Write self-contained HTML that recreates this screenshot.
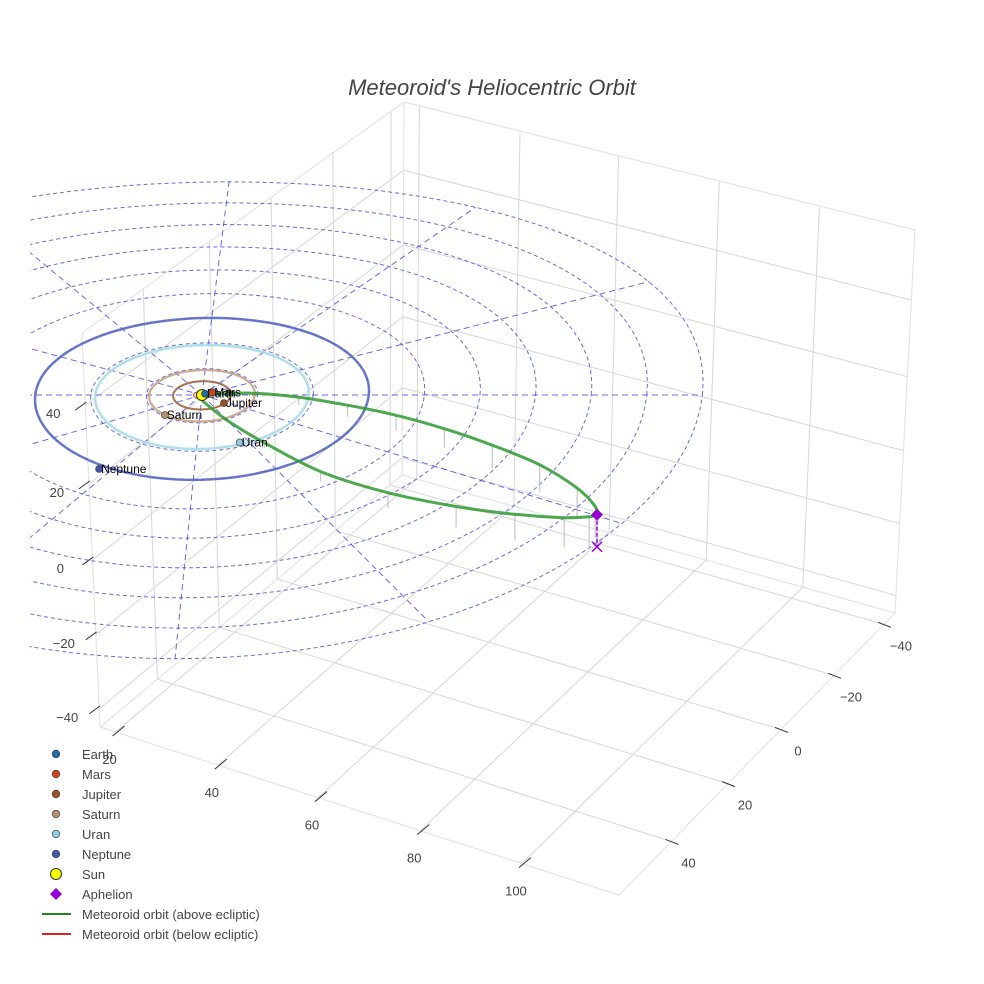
<!DOCTYPE html>
<html><head><meta charset="utf-8"><style>
html,body{margin:0;padding:0;background:#fff;}
svg{display:block;font-family:"Liberation Sans",sans-serif;}
</style></head><body>
<svg id="chart" width="984" height="984" viewBox="0 0 984 984">
<defs><clipPath id="sceneclip"><rect x="30" y="0" width="954" height="984"/></clipPath></defs>
<rect width="984" height="984" fill="#fff"/>
<text x="492" y="95" text-anchor="middle" font-size="22" font-style="italic" fill="#444">Meteoroid's Heliocentric Orbit</text>
<g id="box"></g>
<g id="ecl" clip-path="url(#sceneclip)"></g>
<g id="marks"></g>
<g id="legend"></g>
</svg>
<script>
// ---- data (AU) ----
const ringRadii = [10,20,30,40,50,60,70,80,90];
const radialAngles = [0,30,60,90,120,150,180,210,240,270,300,330];
const planetNames = ["Earth","Mars","Jupiter","Saturn","Uran","Neptune"];
const planetOrbitR = [1,1.5,5.2,9.5,19.2,30];
const planetX = [0.5,1.8,4.1,-6.3,7.7,-17.1];
const planetY = [-0.5,-1.0,2.9,7.2,16.9,26.2];
const planetColors = ["#1a6fa8","#d0441a","#9c4f2e","#b89070","#8ccbe0","#4456a8"];
const orbitColors = ["#4a90c0","#d0441a","#a0603a","#c9a27e","#a8dbe6","#5a6cc4"];
const orbitWidths = [1.2,1.2,2,2.2,2.5,2.5];
const upperX = [0,8.6,17.6,26.6,35.6,44.6,53.6,62.6,69.8,73.4,73.9];
const upperY = [0,0.6,3.5,7.8,12.8,18.8,26,34.2,43.3,49.9,52.9];
const upperZ = [0,0.9,1.9,2.9,3.9,4.8,5.8,6.8,7.6,7.9,8.0];
const lowerX = [0,5,12.2,23,35.6,48.2,59,68,72.5,73.9];
const lowerY = [1.8,9.7,18.8,30.6,39.8,46.3,50.6,53.1,53.3,52.9];
const lowerZ = [0,0.5,1.3,2.5,3.9,5.2,6.4,7.4,7.8,8.0];
const aphelion = [73.9,52.9,8.0];
const xTicks = ["20","40","60","80","100"];
const yTicks = ["40","20","0","−20","−40"];
const zTicks = ["40","20","0","−20","−40"];

const NS="http://www.w3.org/2000/svg";
function mk(tag,attrs,parent){const e=document.createElementNS(NS,tag);for(const k in attrs)e.setAttribute(k,attrs[k]);parent.appendChild(e);return e;}
function P(X,Y,Z){Z=Z||0;const k=Y<0?5.56*(0.48-0.0006*(-Y)):5.56*(0.5+0.0003*Y);return [202+5.56*X-0.3*Y,395+k*Y-4*Z];}
function lerp(a,b,t){return [a[0]+(b[0]-a[0])*t,a[1]+(b[1]-a[1])*t];}

// ---- box ----
const box=document.getElementById('box');
const FL=[100,727],FR=[619,895],RR=[895,613],B=[402,475],TB=[404,102],TL=[82,333],TR=[915,230];
function ln(a,b,col,w,name){const l=mk('line',{x1:a[0],y1:a[1],x2:b[0],y2:b[1],stroke:col,'stroke-width':w},box);return l;}
const xf=[0.03,0.227,0.42,0.617,0.813];
const yf=[0.19,0.395,0.587,0.779,0.96];
const zf=[0.183,0.383,0.576,0.766,0.954];
xf.forEach(f=>{ln(lerp(FL,FR,f),lerp(B,RR,f),"#d6d6d6",1,'floor-grid-x');ln(lerp(B,RR,f),lerp(TB,TR,f),"#d6d6d6",1,'wall-grid-x');});
yf.forEach(f=>{ln(lerp(FR,RR,f),lerp(FL,B,f),"#d6d6d6",1,'floor-grid-y');ln(lerp(FL,B,f),lerp(TL,TB,f),"#d6d6d6",1,'wall-grid-y');});
zf.forEach(f=>{ln(lerp(TL,FL,f),lerp(TB,B,f),"#d6d6d6",1,'wall-grid-z');ln(lerp(TB,B,f),lerp(TR,RR,f),"#d6d6d6",1,'wall-grid-z');});
[[FL,FR],[FR,RR],[RR,B],[B,FL],[TL,TB],[TB,TR],[TB,B],[TL,FL],[TR,RR]].forEach(e=>ln(e[0],e[1],"#e4e4e4",1.2,'box-edge'));
function tx(x,y,s,anchor,name){const t=mk('text',{x:x,y:y,'font-size':13,fill:'#444','text-anchor':anchor},box);t.textContent=s;}
xf.forEach((f,i)=>{const p=lerp(FL,FR,f);ln([p[0]-3,p[1]+4],[p[0]+9,p[1]-6],"#333",1,'x-tick');tx(p[0]-6,p[1]+32,xTicks[i],'middle','x-tick-label');});
yf.forEach((f,i)=>{const p=lerp(FR,RR,f);ln([p[0]-6,p[1]-2],[p[0]+7,p[1]+3],"#333",1,'y-tick');tx(p[0]+17,p[1]+26,yTicks[i],'middle','y-tick-label');});
zf.forEach((f,i)=>{const p=lerp(TL,FL,f);ln([p[0]-10,p[1]+5],[p[0]+1,p[1]-3],"#333",1,'z-tick');tx(p[0]-32,p[1]+13,zTicks[i],'middle','z-tick-label');});

// ---- ecliptic grid ----
const ecl=document.getElementById('ecl');
function ringPath(r){let d="";for(let a=0;a<=360;a+=3){const t=a*Math.PI/180;const p=P(r*Math.cos(t),-r*Math.sin(t));d+=(a?"L":"M")+p[0].toFixed(1)+","+p[1].toFixed(1);}return d+"Z";}
ringRadii.forEach(r=>{const e=mk('path',{d:ringPath(r),fill:'none',stroke:'#5050e0','stroke-width':1,'stroke-dasharray':'4,3',opacity:0.85},ecl);});
radialAngles.forEach(a=>{const t=a*Math.PI/180,R=ringRadii[ringRadii.length-1];const p0=P(0,0),p1=P(R*Math.cos(t),-R*Math.sin(t));const e=mk('line',{x1:p0[0],y1:p0[1],x2:p1[0],y2:p1[1],stroke:'#5050e0','stroke-width':1,'stroke-dasharray':'6,4',opacity:0.85},ecl);});

// ---- marks ----
const marks=document.getElementById('marks');
planetOrbitR.forEach((r,i)=>{const e=mk('path',{d:ringPath(r),fill:'none',stroke:orbitColors[i],'stroke-width':orbitWidths[i],opacity:0.9},marks);});
function drops(X,Y,Z){for(let i=0;i<X.length;i++){const a=P(X[i],Y[i],Z[i]),b=P(X[i],Y[i],0);const e=mk('line',{x1:a[0],y1:a[1],x2:b[0],y2:b[1],stroke:'#bbb','stroke-width':1},marks);}}
drops(upperX,upperY,upperZ);drops(lowerX,lowerY,lowerZ);
function smooth(pts){let d="M"+pts[0][0].toFixed(1)+","+pts[0][1].toFixed(1);for(let i=0;i<pts.length-1;i++){const p0=pts[Math.max(0,i-1)],p1=pts[i],p2=pts[i+1],p3=pts[Math.min(pts.length-1,i+2)];const c1=[p1[0]+(p2[0]-p0[0])/6,p1[1]+(p2[1]-p0[1])/6],c2=[p2[0]-(p3[0]-p1[0])/6,p2[1]-(p3[1]-p1[1])/6];d+=`C${c1[0].toFixed(1)},${c1[1].toFixed(1)} ${c2[0].toFixed(1)},${c2[1].toFixed(1)} ${p2[0].toFixed(1)},${p2[1].toFixed(1)}`;}return d;}
function branch(X,Y,Z,name){const pts=X.map((x,i)=>P(x,Y[i],Z[i]));const e=mk('path',{d:smooth(pts),fill:'none',stroke:'#2e9a2e','stroke-width':3,opacity:0.85,'stroke-linejoin':'round'},marks);}
branch(upperX,upperY,upperZ,'orbit-upper-branch');branch(lowerX,lowerY,lowerZ,'orbit-lower-branch');
const ap=P(aphelion[0],aphelion[1],aphelion[2]),ap0=P(aphelion[0],aphelion[1],0);
const apl=mk('line',{x1:ap[0],y1:ap[1],x2:ap0[0],y2:ap0[1],stroke:'#9400d3','stroke-width':1.5,'stroke-dasharray':'4,2'},marks);


const dia=mk('path',{d:`M${ap[0]},${ap[1]-6}L${ap[0]+6},${ap[1]}L${ap[0]},${ap[1]+6}L${ap[0]-6},${ap[1]}Z`,fill:'#9400d3'},marks);


const cross=mk('path',{d:`M${ap0[0]-5},${ap0[1]-5}L${ap0[0]+5},${ap0[1]+5}M${ap0[0]+5},${ap0[1]-5}L${ap0[0]-5},${ap0[1]+5}`,stroke:'#9400d3','stroke-width':1.5},marks);


const sp=P(0,0);
const sun=mk('circle',{cx:sp[0],cy:sp[1],r:5.5,fill:'#ffff00',stroke:'#333','stroke-width':1},marks);


planetNames.forEach((n,i)=>{const p=P(planetX[i],planetY[i]);const c=mk('circle',{cx:p[0],cy:p[1],r:3.5,fill:planetColors[i],stroke:'#333','stroke-width':0.6},marks);const t=mk('text',{x:p[0]+2,y:p[1]+4,'font-size':12,fill:'#000'},marks);t.textContent=n;});

// ---- legend ----
const lg=document.getElementById('legend');
const legNames=["Earth","Mars","Jupiter","Saturn","Uran","Neptune","Sun","Aphelion","Meteoroid orbit (above ecliptic)","Meteoroid orbit (below ecliptic)"];
legNames.forEach((n,i)=>{const y=754+i*20;const g=mk('g',{},lg);
if(i<6){mk('circle',{cx:56,cy:y,r:3.8,fill:planetColors[i],stroke:'#333','stroke-width':0.6},g);}
else if(i===6){mk('circle',{cx:56,cy:y,r:5.5,fill:'#ffff00',stroke:'#333','stroke-width':1},g);}
else if(i===7){mk('path',{d:`M56,${y-6}L62,${y}L56,${y+6}L50,${y}Z`,fill:'#9400d3'},g);}
else{mk('line',{x1:42,y1:y,x2:71,y2:y,stroke:i===8?'#1a8a1a':'#e02020','stroke-width':2},g);}
const t=mk('text',{x:82,y:y+5,'font-size':13,fill:'#444'},g);t.textContent=n;});
</script>
</body></html>
